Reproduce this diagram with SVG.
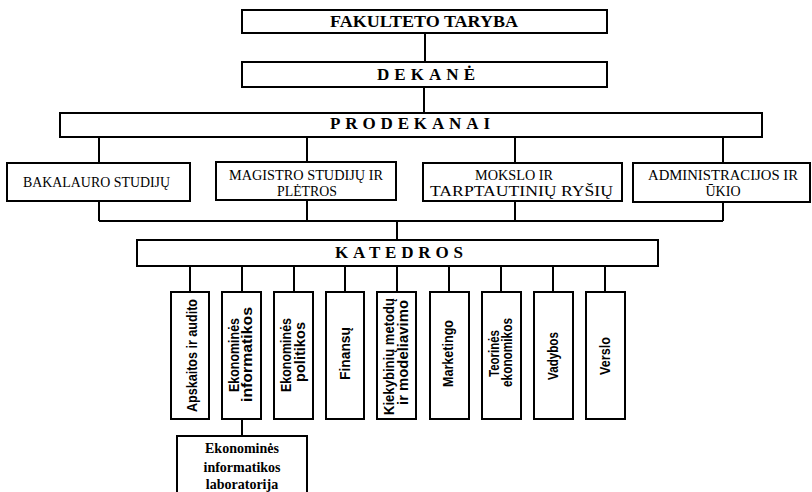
<svg xmlns="http://www.w3.org/2000/svg" width="812" height="492" viewBox="0 0 812 492">
<style>
.box{fill:#fff;stroke:#000;stroke-width:2}
.ln{stroke:#000;stroke-width:2;fill:none}
.hd{font-family:"Liberation Serif","Times New Roman",serif;font-weight:bold;font-size:17px;fill:#000;text-anchor:middle}
.sb{font-family:"Liberation Serif","Times New Roman",serif;font-size:14px;fill:#000;text-anchor:middle}
.kt{font-family:"Liberation Sans Narrow","Liberation Sans",Arial,sans-serif;font-weight:bold;font-size:15px;fill:#000;text-anchor:middle}
.lb{font-family:"Liberation Serif","Times New Roman",serif;font-weight:bold;font-size:14px;fill:#000;text-anchor:middle}
</style>
<rect width="812" height="492" fill="#fff"/>
<g id="connectors">
<path class="ln" d="M425 33V62M424 87V113"/>
<path class="ln" d="M99 137V163M307 137V162M515 137V163M723 137V163"/>
<path class="ln" d="M99 201V221M307 200V221M515 201V221M723 201V221M99 221H723M397 221V240"/>
<path class="ln" d="M190 266V292M242 266V292M294 266V292M345 266V292M397 266V292M449 266V292M501 266V292M553 266V292M605 266V292"/>
<path class="ln" d="M242 419V436"/>
</g>
<g id="fakulteto-taryba"><rect class="box" x="242" y="10" width="365" height="23"/><text class="hd" x="424" y="27" textLength="188" lengthAdjust="spacingAndGlyphs">FAKULTETO TARYBA</text></g>
<g id="dekane"><rect class="box" x="242" y="62" width="365" height="25"/><text class="hd" x="426" y="80" font-size="16" textLength="98" lengthAdjust="spacing">DEKANĖ</text></g>
<g id="prodekanai"><rect class="box" x="60" y="113" width="702" height="24"/><text class="hd" x="410" y="129" font-size="16" textLength="160" lengthAdjust="spacing">PRODEKANAI</text></g>
<g id="bakalauro"><rect class="box" x="7" y="163" width="183" height="38"/><text class="sb" x="96.5" y="187" textLength="147" lengthAdjust="spacingAndGlyphs">BAKALAURO STUDIJŲ</text></g>
<g id="magistro"><rect class="box" x="216" y="162" width="180" height="38"/><text class="sb" x="306" y="179.5" textLength="154" lengthAdjust="spacingAndGlyphs">MAGISTRO STUDIJŲ IR</text><text class="sb" x="307" y="195.5" textLength="60" lengthAdjust="spacingAndGlyphs">PLĖTROS</text></g>
<g id="mokslo"><rect class="box" x="423" y="163" width="199" height="38"/><text class="sb" x="514" y="180" textLength="78" lengthAdjust="spacingAndGlyphs">MOKSLO IR</text><text class="sb" x="521.5" y="195.5" textLength="183" lengthAdjust="spacingAndGlyphs">TARPTAUTINIŲ RYŠIŲ</text></g>
<g id="administracijos"><rect class="box" x="633" y="163" width="177" height="39"/><text class="sb" x="723" y="180" textLength="150" lengthAdjust="spacingAndGlyphs">ADMINISTRACIJOS IR</text><text class="sb" x="723" y="196">ŪKIO</text></g>
<g id="katedros"><rect class="box" x="137" y="240" width="521" height="26"/><text class="hd" x="399" y="258" font-size="16" textLength="128" lengthAdjust="spacing">KATEDROS</text></g>
<g id="k-apskaitos"><rect class="box" x="171" y="292" width="38" height="127"/><text class="kt" transform="translate(197 355.5) rotate(-90)" textLength="113" lengthAdjust="spacingAndGlyphs">Apskaitos ir audito</text></g>
<g id="k-ekinf"><rect class="box" x="222" y="292" width="39" height="127"/><text class="kt" transform="translate(239 355) rotate(-90)" textLength="74" lengthAdjust="spacingAndGlyphs">Ekonominės</text><text class="kt" transform="translate(252 354.5) rotate(-90)" textLength="95" lengthAdjust="spacingAndGlyphs">informatikos</text></g>
<g id="k-ekpol"><rect class="box" x="274" y="292" width="39" height="127"/><text class="kt" transform="translate(291 355) rotate(-90)" textLength="74" lengthAdjust="spacingAndGlyphs">Ekonominės</text><text class="kt" transform="translate(305 352) rotate(-90)" textLength="60" lengthAdjust="spacingAndGlyphs">politikos</text></g>
<g id="k-finansu"><rect class="box" x="326" y="292" width="38" height="127"/><text class="kt" transform="translate(350 353.5) rotate(-90)" textLength="53" lengthAdjust="spacingAndGlyphs">Finansų</text></g>
<g id="k-kiekybiniu"><rect class="box" x="377" y="292" width="39" height="127"/><text class="kt" transform="translate(394 356.5) rotate(-90)" textLength="117" lengthAdjust="spacingAndGlyphs">Kiekybinių metodų</text><text class="kt" transform="translate(408 352.5) rotate(-90)" textLength="105" lengthAdjust="spacingAndGlyphs">ir modeliavimo</text></g>
<g id="k-marketingo"><rect class="box" x="430" y="292" width="39" height="127"/><text class="kt" transform="translate(453 353.5) rotate(-90)" textLength="67" lengthAdjust="spacingAndGlyphs">Marketingo</text></g>
<g id="k-teorines"><rect class="box" x="482" y="292" width="39" height="127"/><text class="kt" transform="translate(499 353.5) rotate(-90)" textLength="47" lengthAdjust="spacingAndGlyphs">Teorinės</text><text class="kt" transform="translate(512 352.5) rotate(-90)" textLength="69" lengthAdjust="spacingAndGlyphs">ekonomikos</text></g>
<g id="k-vadybos"><rect class="box" x="534" y="292" width="39" height="127"/><text class="kt" transform="translate(558 356) rotate(-90)" textLength="48" lengthAdjust="spacingAndGlyphs">Vadybos</text></g>
<g id="k-verslo"><rect class="box" x="586" y="292" width="39" height="127"/><text class="kt" transform="translate(610 356) rotate(-90)" textLength="38" lengthAdjust="spacingAndGlyphs">Verslo</text></g>
<g id="laboratorija"><rect class="box" x="177" y="436" width="130" height="64"/><text class="lb" x="242" y="453">Ekonominės</text><text class="lb" x="242" y="472">informatikos</text><text class="lb" x="242" y="489">laboratorija</text></g>
</svg>
